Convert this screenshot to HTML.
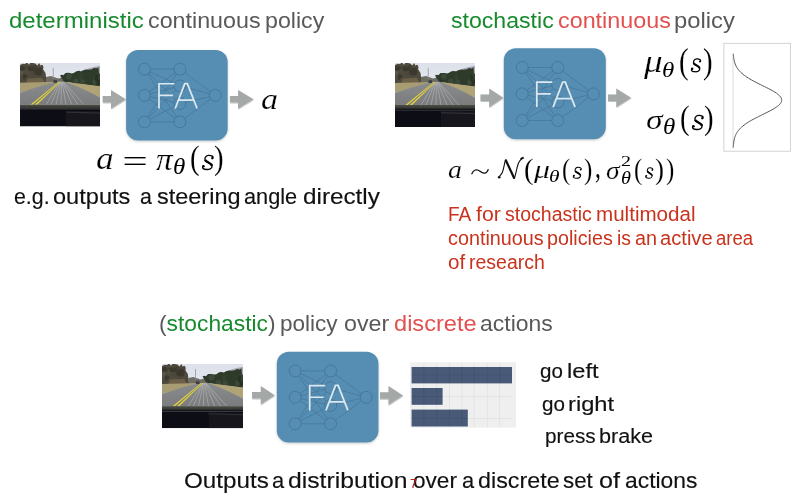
<!DOCTYPE html>
<html><head><meta charset="utf-8"><style>
html,body{margin:0;padding:0;background:#fff;width:800px;height:498px;overflow:hidden;position:relative}
.t{position:absolute;white-space:pre;line-height:1.5;transform-origin:0 0}
.m{-webkit-text-stroke:0.3px #fff}
svg{position:absolute;left:0;top:0}
</style></head><body>
<svg width="800" height="498" viewBox="0 0 800 498">
<defs>
<filter id="blur" x="-5%" y="-5%" width="110%" height="110%"><feGaussianBlur stdDeviation="0.45"/></filter>
<filter id="soft" x="-10%" y="-10%" width="120%" height="120%"><feGaussianBlur in="SourceGraphic" stdDeviation="0.45" result="b"/><feDropShadow in="b" dx="0" dy="1" stdDeviation="1" flood-color="#000" flood-opacity="0.22"/></filter>
<filter id="ash" x="-5%" y="-5%" width="110%" height="110%"><feDropShadow dx="0.3" dy="0.8" stdDeviation="0.6" flood-color="#000" flood-opacity="0.3"/></filter>
<symbol id="fa" viewBox="0 0 102 91" overflow="visible">
<rect x="0" y="0" width="102" height="91" rx="12" ry="12" fill="#568db3" filter="url(#soft)"/>
<g stroke="#2c5573" stroke-width="0.7" fill="none" opacity="0.42">
<line x1="18.4" y1="19.3" x2="54" y2="19.3"/><line x1="18.4" y1="19.3" x2="54" y2="36.1"/><line x1="18.4" y1="19.3" x2="54" y2="53.9"/><line x1="18.4" y1="19.3" x2="54" y2="72.3"/><line x1="18.4" y1="45.7" x2="54" y2="19.3"/><line x1="18.4" y1="45.7" x2="54" y2="36.1"/><line x1="18.4" y1="45.7" x2="54" y2="53.9"/><line x1="18.4" y1="45.7" x2="54" y2="72.3"/><line x1="18.4" y1="72.3" x2="54" y2="19.3"/><line x1="18.4" y1="72.3" x2="54" y2="36.1"/><line x1="18.4" y1="72.3" x2="54" y2="53.9"/><line x1="18.4" y1="72.3" x2="54" y2="72.3"/><line x1="54" y1="19.3" x2="89.6" y2="45.7"/><line x1="54" y1="36.1" x2="89.6" y2="45.7"/><line x1="54" y1="53.9" x2="89.6" y2="45.7"/><line x1="54" y1="72.3" x2="89.6" y2="45.7"/>
</g>
<g stroke="#2c5573" stroke-width="0.7" stroke-opacity="0.5" fill="#568db3">
<circle cx="18.4" cy="19.3" r="6"/><circle cx="18.4" cy="45.7" r="6"/><circle cx="18.4" cy="72.3" r="6"/><circle cx="54" cy="19.3" r="6"/><circle cx="54" cy="36.1" r="6"/><circle cx="54" cy="53.9" r="6"/><circle cx="54" cy="72.3" r="6"/><circle cx="89.6" cy="45.7" r="6"/>
</g>
<g stroke="#dce8f0" stroke-width="1.75" fill="none" stroke-linecap="butt" stroke-linejoin="miter">
<path d="M33,58.9 V34 H48.6 M33,45.7 H47"/>
<path d="M49.3,58.9 L58.9,33.9 H61.5 L71.3,58.9 M52.6,50.4 H67.8"/>
</g>
</symbol>
</defs>
<svg x="20" y="63" width="80" height="63.5" viewBox="0 0 80 64" preserveAspectRatio="none"><g id="roadg">
<defs><linearGradient id="sky" x1="0" y1="0" x2="0" y2="1"><stop offset="0" stop-color="#dde1ea"/><stop offset="1" stop-color="#eef0f4"/></linearGradient>
<linearGradient id="rd" x1="0" y1="0" x2="0" y2="1"><stop offset="0" stop-color="#8a8b8d"/><stop offset="1" stop-color="#7a7c7e"/></linearGradient>
<linearGradient id="dash" x1="0" y1="0" x2="0" y2="1"><stop offset="0" stop-color="#4d4f48"/><stop offset="1" stop-color="#2e302c"/></linearGradient></defs>
<g filter="url(#blur)">
<rect x="0" y="0" width="80" height="64" fill="url(#sky)"/>
<polygon points="48,14 56,10 64,7 70,5 76,3.5 80,3 80,16 48,16" fill="#aaa6b3"/>
<polygon points="0.0,2.1 2.8,0.8 4.9,1.1 7.0,-0.4 9.0,1.8 10.6,-0.8 13.0,-0.0 15.3,0.6 17.3,2.5 19.1,0.0 20.9,3.3 22.8,5.8 25.5,10.0 27,21 0,21" fill="#4e4a3c"/>
<ellipse cx="21.8" cy="4.4" rx="1.6" ry="2.7" fill="#4b473b"/><ellipse cx="15.2" cy="6.3" rx="2.2" ry="2.5" fill="#433f36"/><ellipse cx="1.6" cy="8.0" rx="1.7" ry="4.9" fill="#5a5547"/><ellipse cx="17.9" cy="16.4" rx="1.5" ry="2.9" fill="#4f4b3f"/><ellipse cx="18.8" cy="8.7" rx="3.4" ry="3.9" fill="#3a372e"/><ellipse cx="7.7" cy="5.7" rx="2.4" ry="2.4" fill="#433f36"/><ellipse cx="14.8" cy="5.2" rx="2.6" ry="3.1" fill="#433f36"/><ellipse cx="4.9" cy="14.0" rx="2.2" ry="2.9" fill="#3a372e"/><ellipse cx="11.1" cy="5.9" rx="3.3" ry="2.3" fill="#3a372e"/><ellipse cx="2.3" cy="5.4" rx="2.9" ry="2.4" fill="#3a372e"/><ellipse cx="13.6" cy="11.2" rx="2.1" ry="2.1" fill="#4b473b"/><ellipse cx="7.7" cy="17.0" rx="2.8" ry="2.6" fill="#4f4b3f"/><ellipse cx="6.6" cy="8.7" rx="1.6" ry="3.3" fill="#4f4b3f"/><ellipse cx="15.9" cy="9.0" rx="1.9" ry="2.6" fill="#3a372e"/>
<polygon points="8,15.5 22,15 25,20.5 6,20.5" fill="#6d6049"/>
<polygon points="26,14 31,13 38,15.5 44,14 44,19.5 26,20" fill="#6e6c64"/>
<polygon points="40.0,12.5 41.7,11.8 43.4,12.3 45.5,10.0 48.2,9.9 50.0,10.1 51.9,10.5 53.6,10.1 56.5,8.3 59.2,7.9 61.0,8.6 63.4,7.3 66.2,6.5 67.8,6.8 70.3,6.6 72.1,6.3 73.7,5.0 76.5,5.4 78.5,4.3 80,24 62,21.5 44,19" fill="#2f3b2c"/>
<ellipse cx="52.9" cy="15.2" rx="1.8" ry="2.5" fill="#2f3b2b"/><ellipse cx="49.0" cy="13.5" rx="2.9" ry="3.1" fill="#3c4838"/><ellipse cx="77.7" cy="18.9" rx="2.8" ry="3.4" fill="#263223"/><ellipse cx="61.3" cy="13.8" rx="1.8" ry="3.7" fill="#34412f"/><ellipse cx="55.8" cy="18.9" rx="2.7" ry="3.3" fill="#3c4838"/><ellipse cx="62.5" cy="18.9" rx="2.5" ry="2.5" fill="#3c4838"/><ellipse cx="77.5" cy="13.7" rx="3.0" ry="3.9" fill="#34412f"/><ellipse cx="45.6" cy="21.1" rx="1.7" ry="3.9" fill="#263223"/><ellipse cx="74.5" cy="19.2" rx="2.2" ry="2.9" fill="#3c4838"/><ellipse cx="76.5" cy="15.0" rx="1.5" ry="3.8" fill="#263223"/>
<polygon points="0,20 37,19 0,30" fill="#a89c72"/>
<polygon points="44,18.8 80,23.5 80,34.5" fill="#b0a477"/>
<path d="M36.5,19 L45,18.8 Q62,25 80,34.5 L80,42 L0,42 L0,30 Q20,23 36.5,19 Z" fill="url(#rd)"/>
<g stroke="#d0d2d4" stroke-width="0.6" opacity="0.65">
<line x1="40" y1="19" x2="26" y2="42"/><line x1="40.5" y1="19" x2="31" y2="42"/><line x1="41" y1="19" x2="36" y2="42"/><line x1="41.5" y1="19" x2="41" y2="42"/><line x1="42" y1="19" x2="46" y2="42"/><line x1="42.5" y1="19" x2="52" y2="42"/><line x1="43" y1="19" x2="58" y2="42"/><line x1="43.5" y1="19" x2="64" y2="42"/>
</g>
<polygon points="38.6,19 39.4,19 12,42.5 9.8,42.5" fill="#e6d638"/>
<polygon points="39.9,19 40.7,19 16.5,42.5 14.3,42.5" fill="#e6d638"/>
<polygon points="33.5,17.3 37,17.3 37,20 33.5,20" fill="#3a3c46"/>
<rect x="32.8" y="5" width="0.7" height="11" fill="#8a8c90"/>
<rect x="0" y="42" width="80" height="4" fill="url(#dash)"/>
<rect x="0" y="45.7" width="80" height="1.6" fill="#17181c"/>
<rect x="0" y="47.2" width="80" height="16.8" fill="#0c0d12"/>
<polygon points="46,48 80,48.5 80,64 46,64" fill="#16181d"/>
<polygon points="46,49 80,50 80,51.2 46,50.2" fill="#2e3035"/>
</g></g></svg>
<svg x="395" y="63" width="80" height="64" viewBox="0 0 80 64" preserveAspectRatio="none"><g >
<defs><linearGradient id="sky2" x1="0" y1="0" x2="0" y2="1"><stop offset="0" stop-color="#dde1ea"/><stop offset="1" stop-color="#eef0f4"/></linearGradient>
<linearGradient id="rd2" x1="0" y1="0" x2="0" y2="1"><stop offset="0" stop-color="#8a8b8d"/><stop offset="1" stop-color="#7a7c7e"/></linearGradient>
<linearGradient id="dash2" x1="0" y1="0" x2="0" y2="1"><stop offset="0" stop-color="#4d4f48"/><stop offset="1" stop-color="#2e302c"/></linearGradient></defs>
<g filter="url(#blur)">
<rect x="0" y="0" width="80" height="64" fill="url(#sky2)"/>
<polygon points="48,14 56,10 64,7 70,5 76,3.5 80,3 80,16 48,16" fill="#aaa6b3"/>
<polygon points="0.0,2.1 2.8,0.8 4.9,1.1 7.0,-0.4 9.0,1.8 10.6,-0.8 13.0,-0.0 15.3,0.6 17.3,2.5 19.1,0.0 20.9,3.3 22.8,5.8 25.5,10.0 27,21 0,21" fill="#4e4a3c"/>
<ellipse cx="21.8" cy="4.4" rx="1.6" ry="2.7" fill="#4b473b"/><ellipse cx="15.2" cy="6.3" rx="2.2" ry="2.5" fill="#433f36"/><ellipse cx="1.6" cy="8.0" rx="1.7" ry="4.9" fill="#5a5547"/><ellipse cx="17.9" cy="16.4" rx="1.5" ry="2.9" fill="#4f4b3f"/><ellipse cx="18.8" cy="8.7" rx="3.4" ry="3.9" fill="#3a372e"/><ellipse cx="7.7" cy="5.7" rx="2.4" ry="2.4" fill="#433f36"/><ellipse cx="14.8" cy="5.2" rx="2.6" ry="3.1" fill="#433f36"/><ellipse cx="4.9" cy="14.0" rx="2.2" ry="2.9" fill="#3a372e"/><ellipse cx="11.1" cy="5.9" rx="3.3" ry="2.3" fill="#3a372e"/><ellipse cx="2.3" cy="5.4" rx="2.9" ry="2.4" fill="#3a372e"/><ellipse cx="13.6" cy="11.2" rx="2.1" ry="2.1" fill="#4b473b"/><ellipse cx="7.7" cy="17.0" rx="2.8" ry="2.6" fill="#4f4b3f"/><ellipse cx="6.6" cy="8.7" rx="1.6" ry="3.3" fill="#4f4b3f"/><ellipse cx="15.9" cy="9.0" rx="1.9" ry="2.6" fill="#3a372e"/>
<polygon points="8,15.5 22,15 25,20.5 6,20.5" fill="#6d6049"/>
<polygon points="26,14 31,13 38,15.5 44,14 44,19.5 26,20" fill="#6e6c64"/>
<polygon points="40.0,12.5 41.7,11.8 43.4,12.3 45.5,10.0 48.2,9.9 50.0,10.1 51.9,10.5 53.6,10.1 56.5,8.3 59.2,7.9 61.0,8.6 63.4,7.3 66.2,6.5 67.8,6.8 70.3,6.6 72.1,6.3 73.7,5.0 76.5,5.4 78.5,4.3 80,24 62,21.5 44,19" fill="#2f3b2c"/>
<ellipse cx="52.9" cy="15.2" rx="1.8" ry="2.5" fill="#2f3b2b"/><ellipse cx="49.0" cy="13.5" rx="2.9" ry="3.1" fill="#3c4838"/><ellipse cx="77.7" cy="18.9" rx="2.8" ry="3.4" fill="#263223"/><ellipse cx="61.3" cy="13.8" rx="1.8" ry="3.7" fill="#34412f"/><ellipse cx="55.8" cy="18.9" rx="2.7" ry="3.3" fill="#3c4838"/><ellipse cx="62.5" cy="18.9" rx="2.5" ry="2.5" fill="#3c4838"/><ellipse cx="77.5" cy="13.7" rx="3.0" ry="3.9" fill="#34412f"/><ellipse cx="45.6" cy="21.1" rx="1.7" ry="3.9" fill="#263223"/><ellipse cx="74.5" cy="19.2" rx="2.2" ry="2.9" fill="#3c4838"/><ellipse cx="76.5" cy="15.0" rx="1.5" ry="3.8" fill="#263223"/>
<polygon points="0,20 37,19 0,30" fill="#a89c72"/>
<polygon points="44,18.8 80,23.5 80,34.5" fill="#b0a477"/>
<path d="M36.5,19 L45,18.8 Q62,25 80,34.5 L80,42 L0,42 L0,30 Q20,23 36.5,19 Z" fill="url(#rd2)"/>
<g stroke="#d0d2d4" stroke-width="0.6" opacity="0.65">
<line x1="40" y1="19" x2="26" y2="42"/><line x1="40.5" y1="19" x2="31" y2="42"/><line x1="41" y1="19" x2="36" y2="42"/><line x1="41.5" y1="19" x2="41" y2="42"/><line x1="42" y1="19" x2="46" y2="42"/><line x1="42.5" y1="19" x2="52" y2="42"/><line x1="43" y1="19" x2="58" y2="42"/><line x1="43.5" y1="19" x2="64" y2="42"/>
</g>
<polygon points="38.6,19 39.4,19 12,42.5 9.8,42.5" fill="#e6d638"/>
<polygon points="39.9,19 40.7,19 16.5,42.5 14.3,42.5" fill="#e6d638"/>
<polygon points="33.5,17.3 37,17.3 37,20 33.5,20" fill="#3a3c46"/>
<rect x="32.8" y="5" width="0.7" height="11" fill="#8a8c90"/>
<rect x="0" y="42" width="80" height="4" fill="url(#dash2)"/>
<rect x="0" y="45.7" width="80" height="1.6" fill="#17181c"/>
<rect x="0" y="47.2" width="80" height="16.8" fill="#0c0d12"/>
<polygon points="46,48 80,48.5 80,64 46,64" fill="#16181d"/>
<polygon points="46,49 80,50 80,51.2 46,50.2" fill="#2e3035"/>
</g></g></svg>
<svg x="162" y="364" width="81" height="64.2" viewBox="0 0 80 64" preserveAspectRatio="none"><g >
<defs><linearGradient id="sky3" x1="0" y1="0" x2="0" y2="1"><stop offset="0" stop-color="#dde1ea"/><stop offset="1" stop-color="#eef0f4"/></linearGradient>
<linearGradient id="rd3" x1="0" y1="0" x2="0" y2="1"><stop offset="0" stop-color="#8a8b8d"/><stop offset="1" stop-color="#7a7c7e"/></linearGradient>
<linearGradient id="dash3" x1="0" y1="0" x2="0" y2="1"><stop offset="0" stop-color="#4d4f48"/><stop offset="1" stop-color="#2e302c"/></linearGradient></defs>
<g filter="url(#blur)">
<rect x="0" y="0" width="80" height="64" fill="url(#sky3)"/>
<polygon points="48,14 56,10 64,7 70,5 76,3.5 80,3 80,16 48,16" fill="#aaa6b3"/>
<polygon points="0.0,2.1 2.8,0.8 4.9,1.1 7.0,-0.4 9.0,1.8 10.6,-0.8 13.0,-0.0 15.3,0.6 17.3,2.5 19.1,0.0 20.9,3.3 22.8,5.8 25.5,10.0 27,21 0,21" fill="#4e4a3c"/>
<ellipse cx="21.8" cy="4.4" rx="1.6" ry="2.7" fill="#4b473b"/><ellipse cx="15.2" cy="6.3" rx="2.2" ry="2.5" fill="#433f36"/><ellipse cx="1.6" cy="8.0" rx="1.7" ry="4.9" fill="#5a5547"/><ellipse cx="17.9" cy="16.4" rx="1.5" ry="2.9" fill="#4f4b3f"/><ellipse cx="18.8" cy="8.7" rx="3.4" ry="3.9" fill="#3a372e"/><ellipse cx="7.7" cy="5.7" rx="2.4" ry="2.4" fill="#433f36"/><ellipse cx="14.8" cy="5.2" rx="2.6" ry="3.1" fill="#433f36"/><ellipse cx="4.9" cy="14.0" rx="2.2" ry="2.9" fill="#3a372e"/><ellipse cx="11.1" cy="5.9" rx="3.3" ry="2.3" fill="#3a372e"/><ellipse cx="2.3" cy="5.4" rx="2.9" ry="2.4" fill="#3a372e"/><ellipse cx="13.6" cy="11.2" rx="2.1" ry="2.1" fill="#4b473b"/><ellipse cx="7.7" cy="17.0" rx="2.8" ry="2.6" fill="#4f4b3f"/><ellipse cx="6.6" cy="8.7" rx="1.6" ry="3.3" fill="#4f4b3f"/><ellipse cx="15.9" cy="9.0" rx="1.9" ry="2.6" fill="#3a372e"/>
<polygon points="8,15.5 22,15 25,20.5 6,20.5" fill="#6d6049"/>
<polygon points="26,14 31,13 38,15.5 44,14 44,19.5 26,20" fill="#6e6c64"/>
<polygon points="40.0,12.5 41.7,11.8 43.4,12.3 45.5,10.0 48.2,9.9 50.0,10.1 51.9,10.5 53.6,10.1 56.5,8.3 59.2,7.9 61.0,8.6 63.4,7.3 66.2,6.5 67.8,6.8 70.3,6.6 72.1,6.3 73.7,5.0 76.5,5.4 78.5,4.3 80,24 62,21.5 44,19" fill="#2f3b2c"/>
<ellipse cx="52.9" cy="15.2" rx="1.8" ry="2.5" fill="#2f3b2b"/><ellipse cx="49.0" cy="13.5" rx="2.9" ry="3.1" fill="#3c4838"/><ellipse cx="77.7" cy="18.9" rx="2.8" ry="3.4" fill="#263223"/><ellipse cx="61.3" cy="13.8" rx="1.8" ry="3.7" fill="#34412f"/><ellipse cx="55.8" cy="18.9" rx="2.7" ry="3.3" fill="#3c4838"/><ellipse cx="62.5" cy="18.9" rx="2.5" ry="2.5" fill="#3c4838"/><ellipse cx="77.5" cy="13.7" rx="3.0" ry="3.9" fill="#34412f"/><ellipse cx="45.6" cy="21.1" rx="1.7" ry="3.9" fill="#263223"/><ellipse cx="74.5" cy="19.2" rx="2.2" ry="2.9" fill="#3c4838"/><ellipse cx="76.5" cy="15.0" rx="1.5" ry="3.8" fill="#263223"/>
<polygon points="0,20 37,19 0,30" fill="#a89c72"/>
<polygon points="44,18.8 80,23.5 80,34.5" fill="#b0a477"/>
<path d="M36.5,19 L45,18.8 Q62,25 80,34.5 L80,42 L0,42 L0,30 Q20,23 36.5,19 Z" fill="url(#rd3)"/>
<g stroke="#d0d2d4" stroke-width="0.6" opacity="0.65">
<line x1="40" y1="19" x2="26" y2="42"/><line x1="40.5" y1="19" x2="31" y2="42"/><line x1="41" y1="19" x2="36" y2="42"/><line x1="41.5" y1="19" x2="41" y2="42"/><line x1="42" y1="19" x2="46" y2="42"/><line x1="42.5" y1="19" x2="52" y2="42"/><line x1="43" y1="19" x2="58" y2="42"/><line x1="43.5" y1="19" x2="64" y2="42"/>
</g>
<polygon points="38.6,19 39.4,19 12,42.5 9.8,42.5" fill="#e6d638"/>
<polygon points="39.9,19 40.7,19 16.5,42.5 14.3,42.5" fill="#e6d638"/>
<polygon points="33.5,17.3 37,17.3 37,20 33.5,20" fill="#3a3c46"/>
<rect x="32.8" y="5" width="0.7" height="11" fill="#8a8c90"/>
<rect x="0" y="42" width="80" height="4" fill="url(#dash3)"/>
<rect x="0" y="45.7" width="80" height="1.6" fill="#17181c"/>
<rect x="0" y="47.2" width="80" height="16.8" fill="#0c0d12"/>
<polygon points="46,48 80,48.5 80,64 46,64" fill="#16181d"/>
<polygon points="46,49 80,50 80,51.2 46,50.2" fill="#2e3035"/>
</g></g></svg>
<use href="#fa" x="125.9" y="49.9" width="102" height="90.6"/>
<use href="#fa" x="503.8" y="48" width="102" height="91.4"/>
<use href="#fa" x="276.8" y="351.3" width="101.7" height="91.5"/>
<g fill="#a4a8a6" filter="url(#ash)"><polygon points="102.7,96.1 111,96.1 111,89.89999999999999 125.8,99.3 111,108.7 111,102.5 102.7,102.5"/><polygon points="229.9,96.1 238.1,96.1 238.1,89.89999999999999 253.5,99.3 238.1,108.7 238.1,102.5 229.9,102.5"/><polygon points="480.5,94.6 489.2,94.6 489.2,88.39999999999999 503.3,97.8 489.2,107.2 489.2,101.0 480.5,101.0"/><polygon points="608,94.6 616.3,94.6 616.3,88.39999999999999 631.1,97.8 616.3,107.2 616.3,101.0 608,101.0"/><polygon points="252,392.0 260.8,392.0 260.8,386.0 274.7,395.2 260.8,404.4 260.8,398.4 252,398.4"/><polygon points="380,392.3 388.5,392.3 388.5,386.1 403,395.5 388.5,404.9 388.5,398.7 380,398.7"/></g>
<g>
<rect x="410" y="362.2" width="106" height="65.4" fill="#efefef"/>
<g stroke="#dfdfdf" stroke-width="0.8">
<line x1="423.8" y1="363" x2="423.8" y2="427"/><line x1="436.6" y1="363" x2="436.6" y2="427"/><line x1="449.5" y1="363" x2="449.5" y2="427"/><line x1="461.9" y1="363" x2="461.9" y2="427"/><line x1="474.2" y1="363" x2="474.2" y2="427"/><line x1="487.6" y1="363" x2="487.6" y2="427"/><line x1="499.6" y1="363" x2="499.6" y2="427"/>
<line x1="411" y1="375" x2="512" y2="375"/><line x1="411" y1="396.5" x2="512" y2="396.5"/><line x1="411" y1="418.5" x2="512" y2="418.5"/>
</g>
<rect x="411.6" y="367" width="100.4" height="16.4" fill="#485a78"/>
<rect x="411.6" y="388" width="31" height="16.8" fill="#485a78"/>
<rect x="411.6" y="409.6" width="56.2" height="16.9" fill="#485a78"/>
<g stroke="#000" stroke-opacity="0.08" stroke-width="0.8">
<line x1="423.8" y1="367" x2="423.8" y2="383.4"/><line x1="436.6" y1="367" x2="436.6" y2="383.4"/><line x1="449.5" y1="367" x2="449.5" y2="383.4"/><line x1="461.9" y1="367" x2="461.9" y2="383.4"/><line x1="474.2" y1="367" x2="474.2" y2="383.4"/><line x1="487.6" y1="367" x2="487.6" y2="383.4"/><line x1="499.6" y1="367" x2="499.6" y2="383.4"/>
<line x1="423.8" y1="388" x2="423.8" y2="404.8"/><line x1="436.6" y1="388" x2="436.6" y2="404.8"/>
<line x1="423.8" y1="409.6" x2="423.8" y2="426.5"/><line x1="436.6" y1="409.6" x2="436.6" y2="426.5"/><line x1="449.5" y1="409.6" x2="449.5" y2="426.5"/><line x1="461.9" y1="409.6" x2="461.9" y2="426.5"/>
<line x1="411.6" y1="375" x2="512" y2="375"/><line x1="411.6" y1="396.5" x2="442.6" y2="396.5"/><line x1="411.6" y1="418.5" x2="467.8" y2="418.5"/>
</g>
</g>
<rect x="723.9" y="43.3" width="66.5" height="107.9" fill="#fff" stroke="#c8c8c8" stroke-width="0.8"/>
<line x1="733" y1="53.7" x2="733" y2="147.6" stroke="#c8c8c8" stroke-width="0.6"/>
<polyline points="733.29,53.70 733.36,54.64 733.44,55.58 733.53,56.52 733.64,57.46 733.78,58.40 733.94,59.33 734.12,60.27 734.34,61.21 734.59,62.15 734.87,63.09 735.21,64.03 735.59,64.97 736.02,65.91 736.51,66.85 737.06,67.78 737.69,68.72 738.38,69.66 739.15,70.60 740.00,71.54 740.94,72.48 741.96,73.42 743.07,74.36 744.28,75.30 745.57,76.24 746.96,77.18 748.43,78.11 749.98,79.05 751.62,79.99 753.32,80.93 755.09,81.87 756.92,82.81 758.79,83.75 760.68,84.69 762.59,85.63 764.50,86.56 766.39,87.50 768.25,88.44 770.06,89.38 771.79,90.32 773.44,91.26 774.98,92.20 776.40,93.14 777.67,94.08 778.80,95.02 779.75,95.96 780.52,96.89 781.11,97.83 781.50,98.77 781.68,99.71 781.66,100.65 781.44,101.59 781.02,102.53 780.40,103.47 779.60,104.41 778.62,105.34 777.47,106.28 776.16,107.22 774.73,108.16 773.17,109.10 771.50,110.04 769.75,110.98 767.94,111.92 766.07,112.86 764.17,113.80 762.26,114.73 760.35,115.67 758.46,116.61 756.60,117.55 754.79,118.49 753.03,119.43 751.33,120.37 749.71,121.31 748.17,122.25 746.71,123.19 745.34,124.12 744.06,125.06 742.88,126.00 741.78,126.94 740.77,127.88 739.85,128.82 739.01,129.76 738.26,130.70 737.57,131.64 736.96,132.58 736.42,133.51 735.94,134.45 735.52,135.39 735.15,136.33 734.82,137.27 734.54,138.21 734.30,139.15 734.09,140.09 733.91,141.03 733.75,141.97 733.62,142.91 733.51,143.84 733.42,144.78 733.35,145.72 733.28,146.66 733.23,147.60" fill="none" stroke="#555" stroke-width="1"/>
<path d="M212.75,158.26 C213.88,156.48 211.50,155.30 208.50,155.44 C205.25,155.74 204.00,158.70 205.50,160.92 C207.00,162.84 211.75,163.14 212.00,165.95 C212.25,169.06 208.75,169.65 206.75,169.50 C203.50,169.36 201.88,168.32 202.75,166.54" fill="none" stroke="#000" stroke-width="1.37"/><path d="M205.00,159.88 C206.50,162.70 211.50,162.84 211.88,165.95" fill="none" stroke="#000" stroke-width="2.30"/><circle cx="212.25" cy="158.26" r="1.15" fill="#000"/><circle cx="203.38" cy="166.25" r="1.32" fill="#000"/><path d="M700.40,61.47 C701.39,59.85 699.30,58.77 696.66,58.91 C693.80,59.17 692.70,61.88 694.02,63.90 C695.34,65.66 699.52,65.92 699.74,68.49 C699.96,71.33 696.88,71.86 695.12,71.73 C692.26,71.59 690.83,70.65 691.60,69.03" fill="none" stroke="#000" stroke-width="1.25"/><path d="M693.58,62.95 C694.90,65.52 699.30,65.66 699.63,68.49" fill="none" stroke="#000" stroke-width="2.10"/><circle cx="699.96" cy="61.47" r="1.05" fill="#000"/><circle cx="692.15" cy="68.76" r="1.20" fill="#000"/><path d="M702.75,118.26 C703.88,116.48 701.50,115.30 698.50,115.44 C695.25,115.74 694.00,118.70 695.50,120.92 C697.00,122.84 701.75,123.14 702.00,125.95 C702.25,129.06 698.75,129.65 696.75,129.50 C693.50,129.36 691.88,128.32 692.75,126.54" fill="none" stroke="#000" stroke-width="1.37"/><path d="M695.00,119.88 C696.50,122.70 701.50,122.84 701.88,125.95" fill="none" stroke="#000" stroke-width="2.30"/><circle cx="702.25" cy="118.26" r="1.15" fill="#000"/><circle cx="693.38" cy="126.25" r="1.32" fill="#000"/><path d="M581.05,169.53 C581.90,168.15 580.10,167.23 577.82,167.34 C575.35,167.57 574.40,169.88 575.54,171.60 C576.68,173.09 580.29,173.32 580.48,175.51 C580.67,177.93 578.01,178.38 576.49,178.27 C574.02,178.16 572.78,177.35 573.45,175.97" fill="none" stroke="#000" stroke-width="1.06"/><path d="M575.16,170.79 C576.30,172.98 580.10,173.09 580.38,175.51" fill="none" stroke="#000" stroke-width="1.79"/><circle cx="580.67" cy="169.53" r="0.89" fill="#000"/><circle cx="573.92" cy="175.74" r="1.02" fill="#000"/><path d="M652.65,169.92 C653.41,168.60 651.80,167.72 649.76,167.83 C647.55,168.05 646.70,170.25 647.72,171.90 C648.74,173.33 651.97,173.55 652.14,175.64 C652.31,177.95 649.93,178.39 648.57,178.28 C646.36,178.17 645.25,177.40 645.85,176.08" fill="none" stroke="#000" stroke-width="1.02"/><path d="M647.38,171.13 C648.40,173.22 651.80,173.33 652.05,175.64" fill="none" stroke="#000" stroke-width="1.71"/><circle cx="652.31" cy="169.92" r="0.86" fill="#000"/><circle cx="646.27" cy="175.86" r="0.98" fill="#000"/>
<rect x="124.6" y="157" width="21" height="1.4" fill="#000"/><rect x="124.6" y="163.6" width="21" height="1.4" fill="#000"/>
<path d="M498.6,177.6 C499.5,175.5 501.5,174.8 502.5,172 C503.8,168 504.5,163 505.6,159.8 L514.3,178.5 C515.5,175 516.5,170 517.5,166 C518.5,162 519.5,159.5 523.5,158" fill="none" stroke="#111" stroke-width="1.1" stroke-linejoin="round"/>
<path d="M505.6,159.8 L514.3,178.5" stroke="#111" stroke-width="2.2"/>
<circle cx="499.2" cy="177.2" r="1.3" fill="#111"/>
<path d="M471.6,174.3 C473.5,169.5 477,168.6 480,171.2 C483,173.8 486.5,174.5 488.4,169.2" fill="none" stroke="#111" stroke-width="1.25"/>
<path d="M520.5,159.5 C521.5,158.2 522.5,157.6 523.6,157.6" stroke="#111" stroke-width="1.8" fill="none"/>
</svg>
<div class="t" id="e0" style="left:9.04px;top:4.11px;font-family:'Liberation Sans';font-size:22px;color:#168a2c;transform:scaleX(1.0912);-webkit-text-stroke:0px #168a2c">deterministic</div>
<div class="t" id="e1" style="left:147.82px;top:4.11px;font-family:'Liberation Sans';font-size:22px;color:#595959;transform:scaleX(1.0576);-webkit-text-stroke:0px #595959">continuous</div>
<div class="t" id="e2" style="left:264.63px;top:4.11px;font-family:'Liberation Sans';font-size:22px;color:#595959;transform:scaleX(1.0539);-webkit-text-stroke:0px #595959">policy</div>
<div class="t" id="e3" style="left:450.91px;top:4.11px;font-family:'Liberation Sans';font-size:22px;color:#168a2c;transform:scaleX(1.0499);-webkit-text-stroke:0px #168a2c">stochastic</div>
<div class="t" id="e4" style="left:558.07px;top:4.11px;font-family:'Liberation Sans';font-size:22px;color:#e35050;transform:scaleX(1.0600);-webkit-text-stroke:0px #e35050">continuous</div>
<div class="t" id="e5" style="left:674.33px;top:4.11px;font-family:'Liberation Sans';font-size:22px;color:#595959;transform:scaleX(1.0814);-webkit-text-stroke:0px #595959">policy</div>
<div class="t" id="e6" style="left:14.22px;top:179.69px;font-family:'Liberation Sans';font-size:22.2px;color:#111;transform:scaleX(0.9610);-webkit-text-stroke:0.15px #111">e.g.</div>
<div class="t" id="e7" style="left:53.06px;top:179.69px;font-family:'Liberation Sans';font-size:22.2px;color:#111;transform:scaleX(1.0628);-webkit-text-stroke:0.15px #111">outputs</div>
<div class="t" id="e8" style="left:139.85px;top:179.69px;font-family:'Liberation Sans';font-size:22.2px;color:#111;transform:scaleX(0.9610);-webkit-text-stroke:0.15px #111">a</div>
<div class="t" id="e9" style="left:156.80px;top:179.69px;font-family:'Liberation Sans';font-size:22.2px;color:#111;transform:scaleX(1.0578);-webkit-text-stroke:0.15px #111">steering</div>
<div class="t" id="e10" style="left:244.13px;top:179.69px;font-family:'Liberation Sans';font-size:22.2px;color:#111;transform:scaleX(0.9782);-webkit-text-stroke:0.15px #111">angle</div>
<div class="t" id="e11" style="left:302.78px;top:179.69px;font-family:'Liberation Sans';font-size:22.2px;color:#111;transform:scaleX(1.0936);-webkit-text-stroke:0.15px #111">directly</div>
<div class="t" id="e12" style="left:447.97px;top:199.84px;font-family:'Liberation Sans';font-size:19.6px;color:#c9321c;transform:scaleX(0.9734);-webkit-text-stroke:0px #c9321c">FA</div>
<div class="t" id="e13" style="left:475.54px;top:199.84px;font-family:'Liberation Sans';font-size:19.6px;color:#c9321c;transform:scaleX(1.0853);-webkit-text-stroke:0px #c9321c">for</div>
<div class="t" id="e14" style="left:504.91px;top:199.84px;font-family:'Liberation Sans';font-size:19.6px;color:#c9321c;transform:scaleX(0.9966);-webkit-text-stroke:0px #c9321c">stochastic</div>
<div class="t" id="e15" style="left:595.56px;top:199.84px;font-family:'Liberation Sans';font-size:19.6px;color:#c9321c;transform:scaleX(1.0503);-webkit-text-stroke:0px #c9321c">multimodal</div>
<div class="t" id="e16" style="left:447.96px;top:223.84px;font-family:'Liberation Sans';font-size:19.6px;color:#c9321c;transform:scaleX(1.0102);-webkit-text-stroke:0px #c9321c">continuous</div>
<div class="t" id="e17" style="left:547.37px;top:223.84px;font-family:'Liberation Sans';font-size:19.6px;color:#c9321c;transform:scaleX(1.0070);-webkit-text-stroke:0px #c9321c">policies</div>
<div class="t" id="e18" style="left:616.65px;top:223.84px;font-family:'Liberation Sans';font-size:19.6px;color:#c9321c;transform:scaleX(0.9875);-webkit-text-stroke:0px #c9321c">is</div>
<div class="t" id="e19" style="left:634.81px;top:223.84px;font-family:'Liberation Sans';font-size:19.6px;color:#c9321c;transform:scaleX(1.0103);-webkit-text-stroke:0px #c9321c">an</div>
<div class="t" id="e20" style="left:660.19px;top:223.84px;font-family:'Liberation Sans';font-size:19.6px;color:#c9321c;transform:scaleX(1.0285);-webkit-text-stroke:0px #c9321c">active</div>
<div class="t" id="e21" style="left:715.86px;top:223.84px;font-family:'Liberation Sans';font-size:19.6px;color:#c9321c;transform:scaleX(0.9475);-webkit-text-stroke:0px #c9321c">area</div>
<div class="t" id="e22" style="left:447.93px;top:247.84px;font-family:'Liberation Sans';font-size:19.6px;color:#c9321c;transform:scaleX(1.0495);-webkit-text-stroke:0px #c9321c">of</div>
<div class="t" id="e23" style="left:469.14px;top:247.84px;font-family:'Liberation Sans';font-size:19.6px;color:#c9321c;transform:scaleX(0.9939);-webkit-text-stroke:0px #c9321c">research</div>
<div class="t" id="e24" style="left:158.63px;top:306.55px;font-family:'Liberation Sans';font-style:normal;font-size:22.6px;color:#595959;transform:scaleX(1.0087);">(<span style="color:#168a2c">stochastic</span>)</div>
<div class="t" id="e25" style="left:280.02px;top:306.55px;font-family:'Liberation Sans';font-size:22.6px;color:#595959;transform:scaleX(0.9974);-webkit-text-stroke:0px #595959">policy</div>
<div class="t" id="e26" style="left:344.07px;top:306.55px;font-family:'Liberation Sans';font-size:22.6px;color:#595959;transform:scaleX(1.0301);-webkit-text-stroke:0px #595959">over</div>
<div class="t" id="e27" style="left:393.81px;top:306.55px;font-family:'Liberation Sans';font-size:22.6px;color:#e35050;transform:scaleX(1.0447);-webkit-text-stroke:0px #e35050">discrete</div>
<div class="t" id="e28" style="left:480.08px;top:306.55px;font-family:'Liberation Sans';font-size:22.6px;color:#595959;transform:scaleX(1.0167);-webkit-text-stroke:0px #595959">actions</div>
<div class="t" id="e29" style="left:540.20px;top:356.95px;font-family:'Liberation Sans';font-size:19.5px;color:#111;transform:scaleX(1.0538);-webkit-text-stroke:0.15px #111">go</div>
<div class="t" id="e30" style="left:567.35px;top:356.95px;font-family:'Liberation Sans';font-size:19.5px;color:#111;transform:scaleX(1.2125);-webkit-text-stroke:0.15px #111">left</div>
<div class="t" id="e31" style="left:542.26px;top:389.55px;font-family:'Liberation Sans';font-size:19.5px;color:#111;transform:scaleX(1.0575);-webkit-text-stroke:0.15px #111">go</div>
<div class="t" id="e32" style="left:568.34px;top:389.55px;font-family:'Liberation Sans';font-size:19.5px;color:#111;transform:scaleX(1.2149);-webkit-text-stroke:0.15px #111">right</div>
<div class="t" id="e33" style="left:545.45px;top:422.25px;font-family:'Liberation Sans';font-size:19.5px;color:#111;transform:scaleX(1.0629);-webkit-text-stroke:0.15px #111">press</div>
<div class="t" id="e34" style="left:599.09px;top:422.25px;font-family:'Liberation Sans';font-size:19.5px;color:#111;transform:scaleX(1.1093);-webkit-text-stroke:0.15px #111">brake</div>
<div class="t" id="e35" style="left:183.69px;top:462.73px;font-family:'Liberation Sans';font-size:22.8px;color:#111;transform:scaleX(1.0625);-webkit-text-stroke:0.15px #111">Outputs</div>
<div class="t" id="e36" style="left:271.72px;top:462.73px;font-family:'Liberation Sans';font-size:22.8px;color:#111;transform:scaleX(0.9615);-webkit-text-stroke:0.15px #111">a</div>
<div class="t" id="e37" style="left:287.91px;top:462.73px;font-family:'Liberation Sans';font-size:22.8px;color:#111;transform:scaleX(1.0849);-webkit-text-stroke:0.15px #111">distribution</div>
<div class="t" id="e38" style="left:413.40px;top:462.73px;font-family:'Liberation Sans';font-size:22.8px;color:#111;transform:scaleX(0.9909);-webkit-text-stroke:0.15px #111">over</div>
<div class="t" id="e39" style="left:461.94px;top:462.73px;font-family:'Liberation Sans';font-size:22.8px;color:#111;transform:scaleX(0.9595);-webkit-text-stroke:0.15px #111">a</div>
<div class="t" id="e40" style="left:477.97px;top:462.73px;font-family:'Liberation Sans';font-size:22.8px;color:#111;transform:scaleX(1.0221);-webkit-text-stroke:0.15px #111">discrete</div>
<div class="t" id="e41" style="left:563.33px;top:462.73px;font-family:'Liberation Sans';font-size:22.8px;color:#111;transform:scaleX(0.9784);-webkit-text-stroke:0.15px #111">set</div>
<div class="t" id="e42" style="left:599.30px;top:462.73px;font-family:'Liberation Sans';font-size:22.8px;color:#111;transform:scaleX(1.1040);-webkit-text-stroke:0.15px #111">of</div>
<div class="t" id="e43" style="left:624.79px;top:462.73px;font-family:'Liberation Sans';font-size:22.8px;color:#111;transform:scaleX(1.0021);-webkit-text-stroke:0.15px #111">actions</div>
<div class="t" id="e44" style="left:409.72px;top:474.36px;font-family:'Liberation Sans';font-style:normal;font-size:13px;color:#c0201a;transform:scaleX(1.0033);">7</div>
<div class="t" id="e45" style="left:261.15px;top:76.53px;font-family:'Liberation Serif';font-style:italic;font-size:30.42px;color:#000;transform:scaleX(1.1239);-webkit-text-stroke:0.24333333333333326px #fff">a</div>
<div class="t" id="e46" style="left:96.25px;top:136.20px;font-family:'Liberation Serif';font-style:italic;font-size:31.04px;color:#000;transform:scaleX(1.1388);-webkit-text-stroke:0.2483333333333334px #fff">a</div>
<div class="t" id="e47" style="left:156.29px;top:136.62px;font-family:'Liberation Serif';font-style:italic;font-size:30.85px;color:#000;transform:scaleX(1.0805);-webkit-text-stroke:0.24680851063829787px #fff">π</div>
<div class="t" id="e48" style="left:172.54px;top:150.43px;font-family:'Liberation Serif';font-style:italic;font-size:22.54px;color:#000;transform:scaleX(1.1094);-webkit-text-stroke:0.0px #fff">θ</div>
<div class="t" id="e49" style="left:189.63px;top:132.17px;font-family:'Liberation Serif';font-style:normal;font-size:34.44px;color:#000;transform:scaleX(0.8375);-webkit-text-stroke:0.12px #fff">(</div>
<div class="t" id="e50" style="left:214.21px;top:132.19px;font-family:'Liberation Serif';font-style:normal;font-size:34.44px;color:#000;transform:scaleX(0.8375);-webkit-text-stroke:0.12px #fff">)</div>
<div class="t" id="e51" style="left:643.99px;top:40.28px;font-family:'Liberation Serif';font-style:italic;font-size:30.60px;color:#000;transform:scaleX(1.2169);-webkit-text-stroke:0.24477611940298508px #fff">μ</div>
<div class="t" id="e52" style="left:661.55px;top:53.98px;font-family:'Liberation Serif';font-style:italic;font-size:21.83px;color:#000;transform:scaleX(1.1452);-webkit-text-stroke:0.0px #fff">θ</div>
<div class="t" id="e53" style="left:678.63px;top:35.77px;font-family:'Liberation Serif';font-style:normal;font-size:35.00px;color:#000;transform:scaleX(0.8242);-webkit-text-stroke:0.12px #fff">(</div>
<div class="t" id="e54" style="left:703.26px;top:35.69px;font-family:'Liberation Serif';font-style:normal;font-size:35.00px;color:#000;transform:scaleX(0.8242);-webkit-text-stroke:0.12px #fff">)</div>
<div class="t" id="e55" style="left:646.05px;top:99.44px;font-family:'Liberation Serif';font-style:italic;font-size:27.88px;color:#000;transform:scaleX(1.2076);-webkit-text-stroke:0.22307692307692306px #fff">σ</div>
<div class="t" id="e56" style="left:662.54px;top:110.43px;font-family:'Liberation Serif';font-style:italic;font-size:22.54px;color:#000;transform:scaleX(1.1094);-webkit-text-stroke:0.0px #fff">θ</div>
<div class="t" id="e57" style="left:679.63px;top:92.17px;font-family:'Liberation Serif';font-style:normal;font-size:34.44px;color:#000;transform:scaleX(0.8375);-webkit-text-stroke:0.12px #fff">(</div>
<div class="t" id="e58" style="left:704.21px;top:92.19px;font-family:'Liberation Serif';font-style:normal;font-size:34.44px;color:#000;transform:scaleX(0.8375);-webkit-text-stroke:0.12px #fff">)</div>
<div class="t" id="e59" style="left:448.43px;top:150.34px;font-family:'Liberation Serif';font-style:italic;font-size:26.04px;color:#000;transform:scaleX(1.0716);-webkit-text-stroke:0.20833333333333334px #fff">a</div>
<div class="t" id="e60" style="left:523.86px;top:146.00px;font-family:'Liberation Serif';font-style:normal;font-size:30.00px;color:#000;transform:scaleX(0.9615);-webkit-text-stroke:0.12px #fff">(</div>
<div class="t" id="e61" style="left:534.07px;top:152.48px;font-family:'Liberation Serif';font-style:italic;font-size:24.63px;color:#000;transform:scaleX(1.2959);-webkit-text-stroke:0.19701492537313434px #fff">μ</div>
<div class="t" id="e62" style="left:548.89px;top:163.57px;font-family:'Liberation Serif';font-style:italic;font-size:16.90px;color:#000;transform:scaleX(1.2679);-webkit-text-stroke:0.0px #fff">θ</div>
<div class="t" id="e63" style="left:562.13px;top:146.08px;font-family:'Liberation Serif';font-style:normal;font-size:30.00px;color:#000;transform:scaleX(0.8333);-webkit-text-stroke:0.12px #fff">(</div>
<div class="t" id="e64" style="left:584.34px;top:145.87px;font-family:'Liberation Serif';font-style:normal;font-size:30.00px;color:#000;transform:scaleX(0.8333);-webkit-text-stroke:0.12px #fff">)</div>
<div class="t" id="e65" style="left:595.13px;top:140.76px;font-family:'Liberation Serif';font-style:normal;font-size:34.00px;color:#000;transform:scaleX(0.6863);-webkit-text-stroke:0.0px #fff">,</div>
<div class="t" id="e66" style="left:606.46px;top:151.82px;font-family:'Liberation Serif';font-style:italic;font-size:25.00px;color:#000;transform:scaleX(1.1020);-webkit-text-stroke:0.2px #fff">σ</div>
<div class="t" id="e67" style="left:621.32px;top:151.38px;font-family:'Liberation Serif';font-style:normal;font-size:14.62px;color:#000;transform:scaleX(1.3684);-webkit-text-stroke:0.0px #fff">2</div>
<div class="t" id="e68" style="left:621.02px;top:165.05px;font-family:'Liberation Serif';font-style:italic;font-size:18.31px;color:#000;transform:scaleX(1.1053);-webkit-text-stroke:0.0px #fff">θ</div>
<div class="t" id="e69" style="left:634.13px;top:146.08px;font-family:'Liberation Serif';font-style:normal;font-size:30.00px;color:#000;transform:scaleX(0.8333);-webkit-text-stroke:0.12px #fff">(</div>
<div class="t" id="e70" style="left:655.29px;top:145.87px;font-family:'Liberation Serif';font-style:normal;font-size:30.00px;color:#000;transform:scaleX(0.8974);-webkit-text-stroke:0.12px #fff">)</div>
<div class="t" id="e71" style="left:666.34px;top:145.87px;font-family:'Liberation Serif';font-style:normal;font-size:30.00px;color:#000;transform:scaleX(0.8333);-webkit-text-stroke:0.12px #fff">)</div>
</body></html>
